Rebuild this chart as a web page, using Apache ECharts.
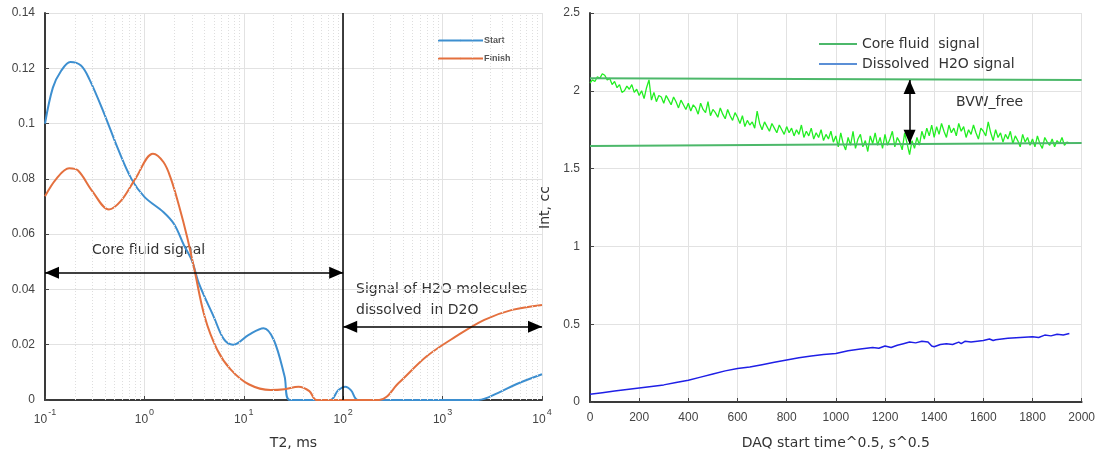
<!DOCTYPE html>
<html>
<head>
<meta charset="utf-8">
<script src="https://cdn.jsdelivr.net/npm/echarts@6/dist/echarts.min.js"></script>
<style>
  html, body { margin: 0; padding: 0; background: #fff; }
  #main { width: 1098px; height: 455px; }
</style>
</head>
<body>
<div id="main"></div>
<script>
// left panel: T2 distributions (log x)
var t2Start = [0.1, 0.12, 0.145, 0.18, 0.23, 0.28, 0.39, 0.54, 0.74, 1.0, 1.55, 2.0, 2.5, 3.0, 3.55, 5.0, 6.3, 7.8, 11.2, 15.8, 20, 25.7, 29, 74, 89, 105, 120, 141, 2290, 3630, 5500, 10000];
var startAmp = [0.100, 0.113, 0.119, 0.1223, 0.121, 0.116, 0.104, 0.091, 0.080, 0.0735, 0.068, 0.0635, 0.056, 0.0505, 0.042, 0.030, 0.022, 0.020, 0.0236, 0.026, 0.0218, 0.0086, 0, 0, 0.0035, 0.0048, 0.0035, 0, 0, 0.0026, 0.0057, 0.0093];
var t2Finish = [0.1, 0.13, 0.175, 0.215, 0.30, 0.44, 0.58, 0.81, 1.22, 1.56, 1.85, 2.24, 2.69, 3.15, 4.05, 5.4, 7.4, 11.2, 18.6, 25.7, 35.5, 45.7, 54, 230, 363, 692, 1350, 2630, 5000, 10000];
var finishAmp = [0.0737, 0.080, 0.0838, 0.083, 0.0755, 0.0689, 0.072, 0.080, 0.0891, 0.086, 0.080, 0.070, 0.059, 0.048, 0.030, 0.0182, 0.011, 0.0057, 0.0036, 0.0039, 0.0048, 0.0032, 0, 0, 0.0062, 0.0158, 0.0229, 0.029, 0.0326, 0.0344];

// right panel: signals vs DAQ time^0.5 (core signal read every 10)
var coreSignal = [
  2.05, 2.07, 2.06, 2.09, 2.08, 2.11, 2.10, 2.07, 2.08, 2.04, 2.06, 2.02, 2.04, 1.99, 2.00, 2.03, 2.01, 2.04, 1.99, 2.01,
  1.97, 2.00, 1.95, 2.02, 2.07, 1.94, 1.99, 1.93, 1.97, 1.96, 1.92, 1.97, 1.94, 1.91, 1.96, 1.93, 1.89, 1.94, 1.91, 1.88,
  1.92, 1.87, 1.91, 1.89, 1.85, 1.92, 1.88, 1.86, 1.93, 1.84, 1.88, 1.86, 1.83, 1.89, 1.85, 1.82, 1.88, 1.84, 1.81, 1.86,
  1.83, 1.79, 1.84, 1.77, 1.81, 1.78, 1.80, 1.76, 1.87, 1.79, 1.75, 1.80, 1.77, 1.74, 1.79, 1.76, 1.73, 1.78, 1.75, 1.72,
  1.77, 1.73, 1.76, 1.71, 1.75, 1.72, 1.78, 1.70, 1.74, 1.71, 1.76, 1.69, 1.73, 1.70, 1.75, 1.68, 1.72, 1.69, 1.74, 1.67,
  1.71, 1.64, 1.73, 1.66, 1.62, 1.70, 1.65, 1.74, 1.63, 1.69, 1.72, 1.64, 1.68, 1.61, 1.71, 1.66, 1.73, 1.65, 1.70, 1.63,
  1.72, 1.65, 1.69, 1.74, 1.64, 1.70, 1.67, 1.62, 1.73, 1.66, 1.59, 1.68, 1.63, 1.70, 1.65, 1.74, 1.69, 1.76, 1.71, 1.78,
  1.70, 1.77, 1.72, 1.79, 1.74, 1.70, 1.78, 1.73, 1.76, 1.71, 1.79, 1.74, 1.77, 1.70, 1.75, 1.72, 1.78, 1.73, 1.69, 1.76,
  1.74, 1.71, 1.80, 1.73, 1.68, 1.75, 1.70, 1.73, 1.67, 1.72, 1.69, 1.74, 1.66, 1.71, 1.68, 1.64, 1.72, 1.67, 1.70, 1.65,
  1.69, 1.64, 1.71, 1.66, 1.63, 1.70, 1.67, 1.65, 1.69, 1.64, 1.68, 1.66, 1.70, 1.65, 1.67, 1.665
];
var coreTime = coreSignal.map(function (v, i) { return i * 10; });
var h2oTime = [0, 50, 100, 150, 200, 250, 300, 350, 400, 450, 500, 550, 600, 650, 700, 750, 800, 850, 900, 950, 1000, 1050, 1100, 1150, 1175, 1200, 1225, 1250, 1275, 1300, 1325, 1350, 1375, 1390, 1400, 1425, 1450, 1475, 1500, 1510, 1525, 1550, 1575, 1600, 1625, 1640, 1650, 1700, 1750, 1800, 1825, 1850, 1875, 1900, 1925, 1950];
var h2oSignal = [0.05, 0.06, 0.07, 0.08, 0.09, 0.10, 0.11, 0.125, 0.14, 0.16, 0.18, 0.20, 0.215, 0.225, 0.24, 0.255, 0.27, 0.285, 0.295, 0.305, 0.312, 0.33, 0.34, 0.35, 0.345, 0.36, 0.35, 0.365, 0.375, 0.385, 0.38, 0.39, 0.385, 0.36, 0.355, 0.37, 0.375, 0.37, 0.385, 0.375, 0.39, 0.385, 0.39, 0.395, 0.405, 0.395, 0.40, 0.41, 0.415, 0.42, 0.415, 0.43, 0.425, 0.435, 0.43, 0.44];
var bvwTop = [[0, 2.08], [2000, 2.07]];
var bvwBottom = [[0, 1.645], [2000, 1.665]];
var bvwArrowX = 1300;

function pairs(xs, ys) {
  return xs.map(function (x, i) { return [x, ys[i]]; });
}

var minorT2 = [];
[0.1, 1, 10, 100, 1000].forEach(function (d) {
  for (var k = 2; k <= 9; k++) minorT2.push(+(d * k).toPrecision(3));
});

var chartDom = document.getElementById('main');
var myChart = echarts.init(chartDom);

var tickFont = 'Liberation Sans, Arial, sans-serif';
var textFont = '"DejaVu Sans", sans-serif';
var gridColor = '#e2e2e2';
var axisLineStyle = { color: '#3a3a3a', width: 2 };
var arrowStyle = { color: '#000', width: 1.5, type: 'solid' };
// arrow heads: tip sits on the end point
var arrowOffset = [[0, 7], [0, 7]];

var option = {
  animation: false,
  grid: [
    { left: 45, top: 13, width: 497, height: 391 },
    { left: 590, top: 13, width: 496, height: 391 }
  ],
  legend: [
    {
      orient: 'vertical', left: 432, top: 31, itemWidth: 45, itemHeight: 2, itemGap: 9,
      textStyle: { fontSize: 9, fontWeight: 'bold', color: '#555', padding: [0, 0, 0, -4] },
      data: ['Start', 'Finish']
    },
    {
      orient: 'vertical', left: 813, top: 32, itemWidth: 38, itemHeight: 2, itemGap: 6,
      textStyle: { fontSize: 14, color: '#333', fontFamily: textFont },
      data: [
        { name: 'Core fluid  signal', itemStyle: { color: '#4cb86a' }, lineStyle: { color: '#4cb86a' } },
        { name: 'Dissolved  H2O signal', itemStyle: { color: '#5b8fd6' }, lineStyle: { color: '#5b8fd6' } }
      ]
    }
  ],
  xAxis: [
    {
      type: 'log', logBase: 10, min: 0.1, max: 10000, gridIndex: 0,
      name: 'T2, ms', nameLocation: 'middle', nameGap: 36,
      nameTextStyle: { fontSize: 14, color: '#333', fontFamily: textFont },
      axisLine: { lineStyle: axisLineStyle },
      axisTick: { inside: true, length: 4, lineStyle: { color: '#444' } },
      splitLine: { show: true, showMinLine: false, lineStyle: { color: gridColor } },
      axisLabel: {
        margin: 8,
        formatter: function (v) {
          return '{b|10}{s|' + Math.round(Math.log10(v)) + '}';
        },
        rich: {
          b: { fontSize: 12, color: '#444', fontFamily: tickFont, verticalAlign: 'bottom' },
          s: { fontSize: 9, color: '#444', fontFamily: tickFont, padding: [0, 0, 9, 1] }
        }
      }
    },
    {
      type: 'value', min: 0, max: 2000, interval: 200, gridIndex: 1,
      name: 'DAQ start time^0.5, s^0.5', nameLocation: 'middle', nameGap: 34,
      nameTextStyle: { fontSize: 14, color: '#333', fontFamily: textFont },
      axisLine: { lineStyle: axisLineStyle },
      axisTick: { inside: true, length: 4, lineStyle: { color: '#444' } },
      splitLine: { show: true, showMinLine: false, lineStyle: { color: gridColor } },
      axisLabel: { margin: 10, fontFamily: tickFont, fontSize: 12, color: '#444', formatter: function (v) { return String(v); } }
    }
  ],
  yAxis: [
    {
      type: 'value', min: 0, max: 0.14, interval: 0.02, gridIndex: 0,
      axisLine: { show: true, lineStyle: axisLineStyle },
      axisTick: { show: true, inside: true, length: 4, lineStyle: { color: '#444' } },
      splitLine: { show: true, showMinLine: false, lineStyle: { color: gridColor } },
      axisLabel: { margin: 10, fontFamily: tickFont, fontSize: 12, color: '#444', formatter: function (v) { return String(+v.toFixed(2)); } }
    },
    {
      type: 'value', min: 0, max: 2.5, interval: 0.5, gridIndex: 1,
      name: 'Int, cc', nameLocation: 'middle', nameGap: 38,
      nameTextStyle: { fontSize: 14, color: '#333', fontFamily: textFont },
      axisLine: { show: true, lineStyle: axisLineStyle },
      axisTick: { show: true, inside: true, length: 4, lineStyle: { color: '#444' } },
      splitLine: { show: true, showMinLine: false, lineStyle: { color: gridColor } },
      axisLabel: { margin: 10, fontFamily: tickFont, fontSize: 12, color: '#444', formatter: function (v) { return String(v); } }
    }
  ],
  series: [
    {
      // minor decade grid
      type: 'line', xAxisIndex: 0, yAxisIndex: 0, data: [], silent: true,
      markLine: {
        silent: true, symbol: ['none', 'none'], label: { show: false },
        lineStyle: { color: '#dedede', type: [1, 2], width: 1 },
        data: minorT2.map(function (v) { return { xAxis: v }; })
      }
    },
    {
      name: 'Start', type: 'line', xAxisIndex: 0, yAxisIndex: 0,
      data: pairs(t2Start, startAmp), smooth: 0.35, symbol: 'none',
      lineStyle: { color: '#3d8fd0', width: 2 }, itemStyle: { color: '#3d8fd0' },
      markLine: {
        silent: true, symbol: ['triangle', 'triangle'], symbolSize: [12, 14], symbolOffset: arrowOffset,
        label: { show: false }, lineStyle: arrowStyle,
        data: [
          [{ coord: [0.1, 0.046] }, { coord: [100, 0.046] }],
          [{ coord: [100, 0.0265] }, { coord: [10000, 0.0265] }]
        ]
      }
    },
    {
      name: 'Finish', type: 'line', xAxisIndex: 0, yAxisIndex: 0,
      data: pairs(t2Finish, finishAmp), smooth: 0.35, symbol: 'none',
      lineStyle: { color: '#e4703e', width: 2 }, itemStyle: { color: '#e4703e' },
      markLine: {
        silent: true, symbol: ['none', 'none'], label: { show: false },
        lineStyle: { color: '#000', width: 1.5, type: 'solid' },
        data: [[{ coord: [100, 0] }, { coord: [100, 0.14] }]]
      }
    },
    {
      name: 'Core fluid  signal', type: 'line', xAxisIndex: 1, yAxisIndex: 1,
      data: pairs(coreTime, coreSignal), symbol: 'none',
      lineStyle: { color: '#22ee22', width: 1.3 }, itemStyle: { color: '#22ee22' }
    },
    {
      name: 'Dissolved  H2O signal', type: 'line', xAxisIndex: 1, yAxisIndex: 1,
      data: pairs(h2oTime, h2oSignal), symbol: 'none',
      lineStyle: { color: '#1f1fe6', width: 1.5 }, itemStyle: { color: '#1f1fe6' }
    },
    {
      type: 'line', xAxisIndex: 1, yAxisIndex: 1, data: bvwTop, symbol: 'none',
      lineStyle: { color: '#4cb86a', width: 2 }, silent: true
    },
    {
      type: 'line', xAxisIndex: 1, yAxisIndex: 1, data: bvwBottom, symbol: 'none',
      lineStyle: { color: '#4cb86a', width: 2 }, silent: true,
      markLine: {
        silent: true, symbol: ['triangle', 'triangle'], symbolSize: [12, 14], symbolOffset: arrowOffset,
        label: { show: false }, lineStyle: arrowStyle,
        data: [[{ coord: [bvwArrowX, 2.07] }, { coord: [bvwArrowX, 1.66] }]]
      }
    }
  ],
  graphic: [
    { type: 'text', left: 92, top: 243, style: { text: 'Core fluid signal', font: '14px "DejaVu Sans", sans-serif', fill: '#333' } },
    { type: 'text', left: 356, top: 279, style: { text: 'Signal of H2O molecules\ndissolved  in D2O', font: '14px "DejaVu Sans", sans-serif', fill: '#333', lineHeight: 21 } },
    { type: 'text', left: 956, top: 95, style: { text: 'BVW_free', font: '14px "DejaVu Sans", sans-serif', fill: '#333' } }
  ]
};

option && myChart.setOption(option);
</script>
</body>
</html>
